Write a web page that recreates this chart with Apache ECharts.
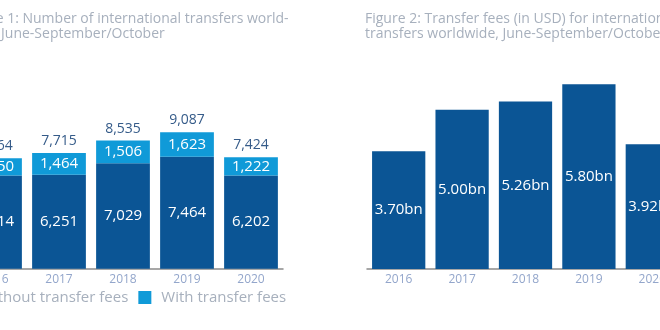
<!DOCTYPE html>
<html><head><meta charset="utf-8">
<script src="https://cdn.jsdelivr.net/npm/echarts@6/dist/echarts.min.js"></script>
<style>html,body{margin:0;padding:0;background:#fff;}#c{width:660px;height:330px;}</style>
</head><body><div id="c"></div>
<script>
const years = ['2016', '2017', '2018', '2019', '2020'];
const withoutFees = [6214, 6251, 7029, 7464, 6202];
const withFees = [1150, 1464, 1506, 1623, 1222];
const totals = [7364, 7715, 8535, 9087, 7424];
const feesBn = [3.70, 5.00, 5.26, 5.80, 3.92];
const title1 = ['Figure 1: Number of international transfers world-', 'wide, June-September/October'];
const title2 = ['Figure 2: Transfer fees (in USD) for international', 'transfers worldwide, June-September/October'];
const legendNames = ['Without transfer fees', 'With transfer fees'];

const DARK = '#0b5595', LIGHT = '#109ad8';
const FONT = '"Open Sans", "Noto Sans", sans-serif';
const fmt = v => v.toLocaleString('en-US');

const chart = echarts.init(document.getElementById('c'), null, {renderer: 'canvas'});
const titleStyle = {color: '#a7b0bd', fontSize: 14, fontWeight: 'normal', fontFamily: FONT, lineHeight: 15.5};
const xAxisBase = {
  type: 'category', data: years,
  axisLine: {lineStyle: {color: '#8a8a8a', width: 1.5}},
  axisTick: {show: false},
  axisLabel: {color: '#93a6cb', fontSize: 12, fontFamily: FONT, margin: 5},
  splitLine: {show: false}
};
const inLabel = {show: true, position: 'inside', color: '#fff', fontSize: 15, fontFamily: FONT};
chart.setOption({
  animation: false,
  title: [
    {text: title1.join('\n'), left: -37, top: 11, textStyle: titleStyle, padding: 0},
    {text: title2.join('\n'), left: 365, top: 11, textStyle: titleStyle, padding: 0}
  ],
  legend: {
    data: legendNames, left: -43, top: 290, itemWidth: 13, itemHeight: 13, itemGap: 10,
    icon: 'rect', padding: 0,
    textStyle: {color: '#a7b0bd', fontSize: 15, fontFamily: FONT, padding: [0, 0, 0, 5]}
  },
  grid: [
    {left: -37, width: 320, top: 118.6, height: 150.1, outerBoundsMode: 'none', containLabel: false},
    {left: 367, width: 317, top: 78, height: 191, outerBoundsMode: 'none', containLabel: false}
  ],
  xAxis: [
    Object.assign({gridIndex: 0}, xAxisBase),
    Object.assign({gridIndex: 1}, xAxisBase)
  ],
  yAxis: [
    {gridIndex: 0, type: 'value', min: 0, max: 10000, show: false},
    {gridIndex: 1, type: 'value', min: 0, max: 6, show: false}
  ],
  series: [
    {name: legendNames[0], type: 'bar', stack: 'a', xAxisIndex: 0, yAxisIndex: 0, data: withoutFees,
     barCategoryGap: '16%', itemStyle: {color: DARK},
     label: Object.assign({formatter: p => fmt(p.value)}, inLabel)},
    {name: legendNames[1], type: 'bar', stack: 'a', xAxisIndex: 0, yAxisIndex: 0, data: withFees,
     barCategoryGap: '16%', itemStyle: {color: LIGHT},
     label: Object.assign({formatter: p => fmt(p.value)}, inLabel)},
    {name: 'total', type: 'bar', stack: 'a', xAxisIndex: 0, yAxisIndex: 0, data: totals.map(() => 0),
     barCategoryGap: '16%', itemStyle: {color: 'transparent'},
     label: {show: true, position: 'top', distance: 5, color: '#355b89', fontSize: 14, fontFamily: FONT,
       formatter: p => fmt(totals[p.dataIndex])}},
    {name: 'fees', type: 'bar', xAxisIndex: 1, yAxisIndex: 1, data: feesBn,
     barCategoryGap: '16%', itemStyle: {color: DARK},
     label: Object.assign({formatter: p => p.value.toFixed(2) + 'bn'}, inLabel)}
  ]
});
</script></body></html>
